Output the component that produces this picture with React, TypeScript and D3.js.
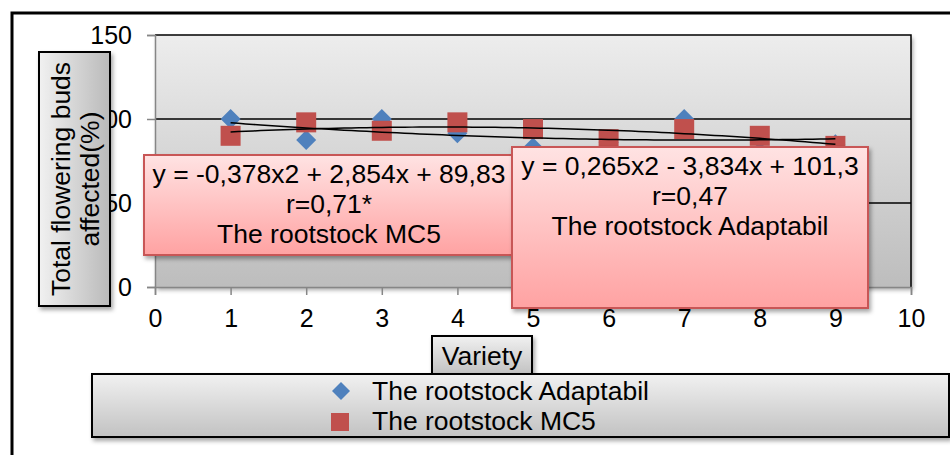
import React, { useEffect, useRef } from 'react';
import * as d3 from 'd3';

// values
const varieties = [1, 2, 3, 4, 5, 6, 7, 8, 9];
const adaptabil = [100, 87.5, 100, 91.5, 83, 86, 100, 88, 85];
const mc5 = [90, 98, 93, 98, 94, 88, 94, 90, 84];
const xTicks = [0, 1, 2, 3, 4, 5, 6, 7, 8, 9, 10];
const yTicks = [0, 50, 100, 150];
const gridValues = [50, 100];

// polynomial trend coefficients (a, b, c) as printed in the chart
const adaptabilFit = [0.265, -3.834, 101.3];
const mc5Fit = [-0.378, 2.854, 89.83];

const mc5Label = ['y = -0,378x2 + 2,854x + 89,83', 'r=0,71*', 'The rootstock MC5'];
const adaptabilLabel = ['y = 0,265x2 - 3,834x + 101,3', 'r=0,47', 'The rootstock Adaptabil'];
const legendNames = ['The rootstock Adaptabil', 'The rootstock MC5'];
const yTitle = ['Total flowering buds', 'affected(%)'];
const xTitle = 'Variety';

const FONT = '"Liberation Sans", Arial, sans-serif';
const TEXT_SIZE = 26.5;
const BLUE = '#4f81bd';
const RED = '#c0504d';

const App: React.FC = () => {
  const chartRef = useRef<SVGSVGElement | null>(null);

  useEffect(() => {
    if (!chartRef.current) return;
    const svg = d3.select(chartRef.current);
    svg.selectAll('*').remove();

    const plot = { left: 155, top: 35, right: 911, bottom: 287 };

    const x = d3.scaleLinear().domain([0, 10]).range([plot.left, plot.right]);
    const y = d3.scaleLinear().domain([0, 150]).range([plot.bottom, plot.top]);

    const defs = svg.append('defs');
    const vgrad = (id: string, c1: string, c2: string, horiz = false) => {
      const g = defs.append('linearGradient').attr('id', id)
        .attr('x1', 0).attr('y1', 0)
        .attr('x2', horiz ? 1 : 0).attr('y2', horiz ? 0 : 1);
      g.append('stop').attr('offset', '0%').attr('stop-color', c1);
      g.append('stop').attr('offset', '100%').attr('stop-color', c2);
    };
    vgrad('plotBg', '#ededed', '#bdbdbd');
    vgrad('pink', '#ffe3e3', '#ffa2a2');
    vgrad('greyBox', '#f1f1f1', '#c2c2c2');
    vgrad('greyBoxH', '#f1f1f1', '#bababa', true);
    const f = defs.append('filter').attr('id', 'shadow')
      .attr('x', '-10%').attr('y', '-10%').attr('width', '130%').attr('height', '140%');
    f.append('feDropShadow').attr('dx', 2).attr('dy', 3).attr('stdDeviation', 2)
      .attr('flood-color', '#000').attr('flood-opacity', 0.35);

    // outer frame
    svg.append('rect')
      .attr('x', 12).attr('y', 13).attr('width', 960).attr('height', 470)
      .attr('fill', 'white').attr('stroke', '#000').attr('stroke-width', 3);

    // plot area
    svg.append('rect')
      .attr('x', plot.left).attr('y', plot.top)
      .attr('width', plot.right - plot.left).attr('height', plot.bottom - plot.top)
      .attr('fill', 'url(#plotBg)').attr('filter', 'url(#shadow)');

    svg.append('g').selectAll('line').data(gridValues).join('line')
      .attr('x1', plot.left).attr('x2', plot.right)
      .attr('y1', d => y(d)).attr('y2', d => y(d))
      .attr('stroke', '#000').attr('stroke-width', 1.5);

    // top and right border in black
    svg.append('path')
      .attr('d', `M${plot.left},${y(150)}H${plot.right}V${plot.bottom}`)
      .attr('fill', 'none').attr('stroke', '#000').attr('stroke-width', 1.5);

    // axes
    const xAxis = svg.append('g')
      .attr('transform', `translate(0,${plot.bottom})`)
      .call(d3.axisBottom(x).tickValues(xTicks).tickSize(8).tickPadding(14).tickFormat(d3.format('d')));
    const yAxis = svg.append('g')
      .attr('transform', `translate(${plot.left},0)`)
      .call(d3.axisLeft(y).tickValues(yTicks).tickSize(8).tickPadding(15).tickFormat(d3.format('d')));
    [xAxis, yAxis].forEach(ax => {
      ax.select('.domain').attr('stroke', '#868686').attr('stroke-width', 1.5);
      ax.selectAll('.tick line').attr('stroke', '#868686').attr('stroke-width', 1.5);
      ax.selectAll('.tick text').attr('fill', '#000').attr('font-size', 25).attr('font-family', FONT);
    });

    // markers
    const diamond = (cx: number, cy: number, r: number) =>
      `M${cx},${cy - r}L${cx + r},${cy}L${cx},${cy + r}L${cx - r},${cy}Z`;
    svg.append('g').selectAll('path').data(varieties).join('path')
      .attr('d', (d, i) => diamond(x(d), y(adaptabil[i]), 10))
      .attr('fill', BLUE);
    svg.append('g').selectAll('rect').data(varieties).join('rect')
      .attr('x', (d) => x(d) - 10).attr('y', (d, i) => y(mc5[i]) - 10)
      .attr('width', 20).attr('height', 20)
      .attr('fill', RED);

    // trend lines
    const trend = (c: number[]) => d3.range(1, 9.01, 0.1).map(v => [v, c[0] * v * v + c[1] * v + c[2]] as [number, number]);
    const line = d3.line<[number, number]>().x(d => x(d[0])).y(d => y(d[1]));
    [adaptabilFit, mc5Fit].forEach(c => {
      svg.append('path').datum(trend(c))
        .attr('d', line).attr('fill', 'none')
        .attr('stroke', '#000').attr('stroke-width', 1.5);
    });

    // annotation boxes
    const annotate = (bx: number, by: number, w: number, h: number, lines: string[]) => {
      const g = svg.append('g');
      g.append('rect').attr('x', bx).attr('y', by).attr('width', w).attr('height', h)
        .attr('fill', 'url(#pink)').attr('stroke', '#c85656').attr('stroke-width', 2)
        .attr('filter', 'url(#shadow)');
      g.selectAll('text').data(lines).join('text')
        .attr('x', bx + w / 2).attr('y', (d, i) => by + 28 + i * 30)
        .attr('text-anchor', 'middle').attr('font-size', TEXT_SIZE).attr('font-family', FONT)
        .attr('fill', '#000').text(d => d);
    };
    annotate(144, 155, 370, 100, mc5Label);
    annotate(512, 147, 356, 161, adaptabilLabel);

    // y axis title
    const yt = svg.append('g');
    yt.append('rect').attr('x', 39).attr('y', 52).attr('width', 71).attr('height', 254)
      .attr('fill', 'url(#greyBoxH)').attr('stroke', '#000').attr('stroke-width', 2)
      .attr('filter', 'url(#shadow)');
    yt.selectAll('text').data(yTitle).join('text')
      .attr('transform', (d, i) => `translate(${70 + i * 29},179) rotate(-90)`)
      .attr('text-anchor', 'middle').attr('font-size', TEXT_SIZE).attr('font-family', FONT)
      .attr('fill', '#000').text(d => d);

    // x axis title
    const xt = svg.append('g');
    xt.append('rect').attr('x', 432).attr('y', 336).attr('width', 100).attr('height', 38)
      .attr('fill', 'url(#greyBox)').attr('stroke', '#000').attr('stroke-width', 2)
      .attr('filter', 'url(#shadow)');
    xt.append('text').attr('x', 482).attr('y', 365)
      .attr('text-anchor', 'middle').attr('font-size', TEXT_SIZE).attr('font-family', FONT)
      .attr('fill', '#000').text(xTitle);

    // legend
    const lg = svg.append('g');
    lg.append('rect').attr('x', 92).attr('y', 374).attr('width', 857).attr('height', 63)
      .attr('fill', 'url(#greyBox)').attr('stroke', '#000').attr('stroke-width', 2)
      .attr('filter', 'url(#shadow)');
    lg.append('path').attr('d', diamond(341, 391, 9)).attr('fill', BLUE);
    lg.append('rect').attr('x', 331).attr('y', 413).attr('width', 18).attr('height', 18).attr('fill', RED);
    lg.selectAll('text').data(legendNames).join('text')
      .attr('x', 372).attr('y', (d, i) => 400 + i * 30)
      .attr('font-size', TEXT_SIZE).attr('font-family', FONT).attr('fill', '#000')
      .text(d => d);
  }, []);

  return (
    <svg
      ref={chartRef}
      width={950}
      height={455}
      style={{ position: 'absolute', left: 0, top: 0, display: 'block' }}
    />
  );
};

export default App;
